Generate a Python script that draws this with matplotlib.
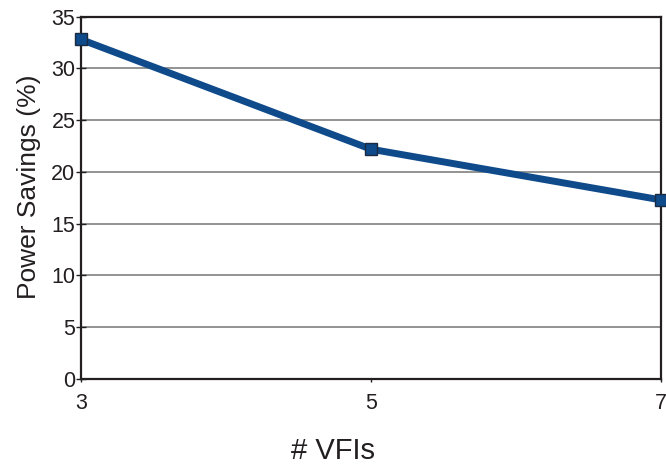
import matplotlib
matplotlib.use("Agg")
import matplotlib.pyplot as plt

# Power savings versus number of voltage/frequency islands
vfis = [3, 5, 7]
savings = [32.8, 22.2, 17.3]
x_ticks = [3, 5, 7]
y_ticks = [0, 5, 10, 15, 20, 25, 30, 35]

plt.rcParams['font.family'] = ['Liberation Sans', 'DejaVu Sans']

W, H = 666, 468
fig = plt.figure(figsize=(W / 100, H / 100), dpi=100)
ax = fig.add_axes([81 / W, 1 - 379 / H, (661 - 81) / W, (379 - 16.7) / H])

ax.plot(vfis, savings, color='#0f4a8a', linewidth=5.0, marker='s', markersize=9,
        markerfacecolor='#0f4a8a', markeredgecolor='#1a2a40', markeredgewidth=1.0,
        solid_capstyle='butt', clip_on=False, zorder=3)

ax.set_xlim(3, 7)
ax.set_ylim(0, 35)
ax.set_xticks(x_ticks)
ax.set_yticks(y_ticks)
ax.yaxis.grid(True, color='#808080', linewidth=1.2)
ax.set_axisbelow(True)

for s in ax.spines.values():
    s.set_color('#231f20')
    s.set_linewidth(1.6)

ax.tick_params(axis='y', direction='inout', length=7, width=1, colors='#231f20',
               labelsize=15.5, pad=0.5)
ax.tick_params(axis='x', direction='out', length=2, width=1, colors='#231f20',
               labelsize=15.5, pad=8)

fig.text(29 / W, 1 - 187 / H, 'Power Savings (%)', fontsize=19, color='#231f20',
         rotation=90, ha='center', va='center')
fig.text(333 / W, 1 - 451 / H, '# VFIs', fontsize=21, color='#231f20',
         ha='center', va='center')

fig.savefig('out.png', dpi=100)
